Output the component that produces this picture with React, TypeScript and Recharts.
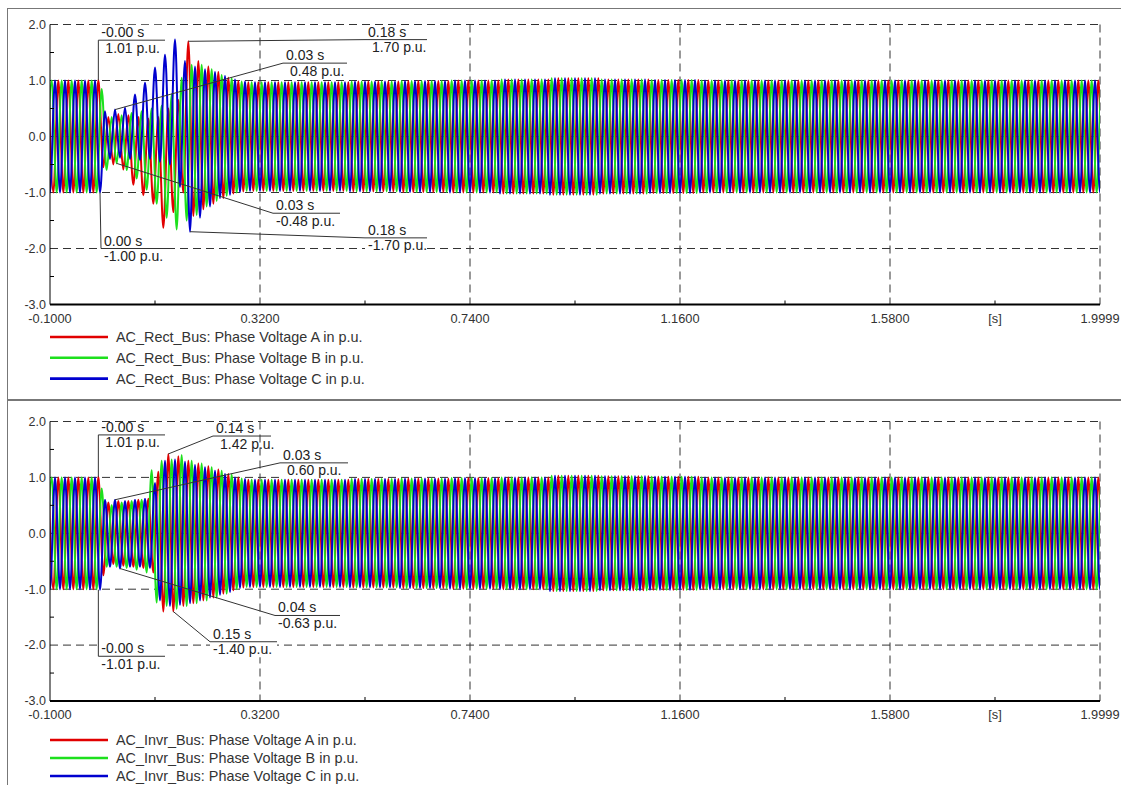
import React from "react";
import {
  LineChart,
  Line,
  XAxis,
  YAxis,
  CartesianGrid,
  ReferenceLine,
  ReferenceArea,
  ReferenceDot,
} from "recharts";

// 50 Hz -> one extremum every half cycle
const HALF_CYCLE = 0.01;

// x axis ticks (major labelled, minor only a tick mark, "[s]" at 1.79)
const TIME_TICKS = [-0.1, 0.11, 0.32, 0.53, 0.74, 0.95, 1.16, 1.37, 1.58, 1.79, 1.9999];
const TIME_LABELS = ["-0.1000", "", "0.3200", "", "0.7400", "", "1.1600", "", "1.5800", "[s]", "1.9999"];
const TIME_GRID = [0.32, 0.74, 1.16, 1.58, 2.0];
const VOLT_TICKS = [-3, -2.5, -2, -1.5, -1, -0.5, 0, 0.5, 1, 1.5, 2];
const VOLT_GRID = [-2, -1, 0, 1, 2];

const PHASE_NAMES = ["A", "B", "C"];
const PHASE_COLORS = ["#e10000", "#1de01d", "#0000cf"];
// first extremum of each phase before the left edge, its sign, and where the fault data starts
const PHASE_FIRST_PEAK = [-0.10333, -0.10667, -0.11];
const PHASE_FIRST_SIGN = [1, -1, 1];
const FAULT_START = [-0.00333, 0.00333, 0.0];

// peak values (p.u.) each half cycle from the fault on, AC_Rect_Bus
const RECT_A_FAULT = [1.01, -0.55, 0.35, -0.5, 0.4, -0.59, 0.38, -0.86, 0.35, -1.05, 0.32, -1.2, 0.35, -1.63, 0.5, -1.35, 0.65, -1.0, 1.7, -1.42, 1.35, -1.3, 1.25, -1.2, 1.15, -1.1, 1.05, -1.02, 0.99, -0.98, 0.97];
const RECT_B_FAULT = [0.85, -0.6, 0.35, -0.48, 0.38, -0.6, 0.42, -0.75, 0.45, -0.95, 0.5, -1.2, 0.55, -1.45, 0.75, -1.66, 1.05, -1.5, 1.28, -1.4, 1.28, -1.25, 1.2, -1.15, 1.1, -1.06, 1.04, -1.0, 0.98, -0.97, 0.97];
const RECT_C_FAULT = [-1.0, 0.45, -0.4, 0.48, -0.38, 0.52, -0.4, 0.75, -0.42, 0.96, -0.4, 1.23, -0.45, 1.46, -0.5, 1.73, -0.9, 1.35, -1.7, 1.25, -1.45, 1.2, -1.25, 1.15, -1.1, 1.08, -1.04, 1.02, -0.99, 0.98, -0.97];

// AC_Invr_Bus
const INVR_A_FAULT = [1.01, -0.75, 0.55, -0.55, 0.58, -0.58, 0.58, -0.6, 0.6, -0.62, 0.62, -0.7, 1.1, -1.4, 1.42, -1.4, 1.38, -1.3, 1.3, -1.25, 1.25, -1.2, 1.2, -1.15, 1.14, -1.08, 1.06, -1.02, 1.0, -0.97, 0.96];
const INVR_B_FAULT = [0.8, -0.6, 0.5, -0.6, 0.55, -0.62, 0.58, -0.65, 0.6, -0.7, 1.13, -1.24, 1.3, -1.3, 1.32, -1.35, 1.4, -1.3, 1.3, -1.25, 1.25, -1.2, 1.18, -1.15, 1.12, -1.08, 1.05, -1.0, 0.98, -0.96, 0.96];
const INVR_C_FAULT = [-1.01, 0.6, -0.6, 0.6, -0.63, 0.58, -0.6, 0.6, -0.6, 0.62, -0.62, 0.9, -1.2, 1.3, -1.3, 1.32, -1.28, 1.28, -1.25, 1.22, -1.2, 1.18, -1.15, 1.12, -1.1, 1.06, -1.05, 1.0, -0.98, 0.97, -0.96];

// steady amplitude for each 0.1 s window starting at -0.1 s
const RECT_ENVELOPE = [1.0, 1.0, 1.0, 1.0, 0.97, 0.97, 0.98, 0.99, 1.0, 1.02, 1.04, 1.02, 1.01, 1.0, 1.0, 1.0, 1.0, 1.0, 1.0, 1.0, 1.0, 1.0];
const INVR_ENVELOPE = [1.0, 1.0, 1.0, 1.0, 0.96, 0.96, 0.97, 0.98, 0.99, 1.0, 1.03, 1.02, 1.01, 1.0, 1.0, 1.0, 1.0, 1.0, 1.0, 1.0, 1.0, 1.0];

interface Marker {
  t: number; v: number; // marked point
  at: number; av: number; // left end of the label line
  end: number;
  time: string; value: string;
}

const RECT_MARKERS: Marker[] = [
  { t: -0.0033, v: 1.01, at: -0.0033, av: 1.72, end: 0.13, time: "-0.00 s", value: "1.01 p.u." },
  { t: 0.1767, v: 1.7, at: 0.53, av: 1.73, end: 0.654, time: "0.18 s", value: "1.70 p.u." },
  { t: 0.03, v: 0.48, at: 0.366, av: 1.31, end: 0.494, time: "0.03 s", value: "0.48 p.u." },
  { t: 0.0333, v: -0.48, at: 0.346, av: -1.37, end: 0.48, time: "0.03 s", value: "-0.48 p.u." },
  { t: 0.18, v: -1.7, at: 0.53, av: -1.81, end: 0.654, time: "0.18 s", value: "-1.70 p.u." },
  { t: 0.0, v: -1.0, at: 0.002, av: -2.0, end: 0.14, time: "0.00 s", value: "-1.00 p.u." },
];

const INVR_MARKERS: Marker[] = [
  { t: -0.0033, v: 1.01, at: -0.0033, av: 1.76, end: 0.13, time: "-0.00 s", value: "1.01 p.u." },
  { t: 0.1367, v: 1.42, at: 0.226, av: 1.74, end: 0.342, time: "0.14 s", value: "1.42 p.u." },
  { t: 0.03, v: 0.6, at: 0.36, av: 1.26, end: 0.496, time: "0.03 s", value: "0.60 p.u." },
  { t: 0.04, v: -0.63, at: 0.35, av: -1.47, end: 0.48, time: "0.04 s", value: "-0.63 p.u." },
  { t: 0.1467, v: -1.4, at: 0.22, av: -1.94, end: 0.354, time: "0.15 s", value: "-1.40 p.u." },
  { t: -0.0033, v: -1.01, at: -0.0033, av: -2.2, end: 0.13, time: "-0.00 s", value: "-1.01 p.u." },
];

const FONT = "'Liberation Sans', Arial, sans-serif";

// one point per peak / trough of a phase
const buildPhase = (phase: number, fault: number[], envelope: number[]) => {
  const pts: { t: number; v: number }[] = [];
  for (let k = 0; ; k++) {
    const t = PHASE_FIRST_PEAK[phase] + k * HALF_CYCLE;
    if (t > 2.02) break;
    const sign = k % 2 === 0 ? PHASE_FIRST_SIGN[phase] : -PHASE_FIRST_SIGN[phase];
    const j = Math.round((t - FAULT_START[phase]) / HALF_CYCLE);
    let v: number;
    if (j >= 0 && j < fault.length) v = fault[j];
    else {
      const b = Math.min(envelope.length - 1, Math.max(0, Math.floor((t + 0.1) / 0.1 + 1e-9)));
      v = sign * envelope[b];
    }
    pts.push({ t: Number(t.toFixed(5)), v });
  }
  return pts;
};

const XTick = (props: any) => {
  const { x, y, index } = props;
  const label = TIME_LABELS[index];
  return (
    <g>
      {index % 2 === 1 && <line x1={x} x2={x} y1={y - 4} y2={y} stroke="#000" />}
      {label && (
        <text x={x} y={y + 14} dy="0.35em" textAnchor="middle" fontSize={12.8} fill="#333" fontFamily={FONT}>
          {label}
        </text>
      )}
    </g>
  );
};

const YTick = (props: any) => {
  const { x, y, payload } = props;
  const v = payload.value as number;
  if (!Number.isInteger(v)) return <line x1={x} x2={x + 4} y1={y} y2={y} stroke="#000" />;
  return (
    <text x={x - 4} y={y} dy="0.35em" textAnchor="end" fontSize={12.5} fill="#333" fontFamily={FONT}>
      {v.toFixed(1)}
    </text>
  );
};

const markerText = (m: Marker) => (props: any) => {
  const { cx, cy } = props;
  return (
    <g fontFamily={FONT} fontSize={14} fill="#222">
      <text x={cx + 3} y={cy - 3}>{m.time}</text>
      <text x={cx + (m.value.startsWith("-") ? 3 : 7)} y={cy + 12.5}>{m.value}</text>
    </g>
  );
};

interface PanelProps {
  top: number;
  height: number;
  plotTop: number;
  plotBottom: number;
  bus: string;
  faults: number[][];
  envelope: number[];
  markers: Marker[];
  legendTop: number;
  legendGap: number;
}

const Panel: React.FC<PanelProps> = ({ top, height, plotTop, plotBottom, bus, faults, envelope, markers, legendTop, legendGap }) => {
  const series = faults.map((f, i) => buildPhase(i, f, envelope));
  const boxH = 15.5 / 56;
  return (
    <div style={{ position: "absolute", left: 0, top, width: 1121, height }}>
      <LineChart
        width={1121}
        height={height}
        margin={{ top: plotTop, right: 21, left: 0, bottom: height - plotBottom - 30 }}
      >
        <CartesianGrid
          stroke="#333"
          strokeDasharray="8 5"
          horizontalValues={VOLT_GRID}
          verticalValues={TIME_GRID}
        />
        <XAxis
          dataKey="t"
          type="number"
          domain={[-0.1, 2.0]}
          allowDataOverflow
          ticks={TIME_TICKS}
          interval={0}
          height={30}
          tickSize={0}
          tickMargin={0}
          tick={<XTick />}
          axisLine={{ stroke: "#000", strokeWidth: 2 }}
        />
        <YAxis
          type="number"
          domain={[-3, 2]}
          allowDataOverflow
          ticks={VOLT_TICKS}
          interval={0}
          width={50}
          tickSize={0}
          tickMargin={0}
          tick={<YTick />}
          axisLine={{ stroke: "#000" }}
        />
        {series.map((d, i) => (
          <Line
            key={PHASE_NAMES[i]}
            data={d}
            dataKey="v"
            type="monotone"
            stroke={PHASE_COLORS[i]}
            strokeWidth={2}
            dot={false}
            activeDot={false}
            isAnimationActive={false}
          />
        ))}
        {markers.map((m, i) => (
          <ReferenceArea
            key={`box-${i}`}
            x1={m.at}
            x2={m.end}
            y1={m.av - boxH}
            y2={m.av + boxH}
            fill="#fff"
            fillOpacity={1}
            stroke="none"
          />
        ))}
        {markers.map((m, i) => (
          <ReferenceLine
            key={`conn-${i}`}
            segment={[{ x: m.t, y: m.v }, { x: m.at, y: m.av }]}
            stroke="#333"
          />
        ))}
        {markers.map((m, i) => (
          <ReferenceLine
            key={`sep-${i}`}
            segment={[{ x: m.at, y: m.av }, { x: m.end, y: m.av }]}
            stroke="#333"
          />
        ))}
        {markers.map((m, i) => (
          <ReferenceDot key={`txt-${i}`} x={m.at} y={m.av} r={0} shape={markerText(m)} />
        ))}
      </LineChart>
      <svg
        width={420}
        height={70}
        style={{ position: "absolute", left: 0, top: legendTop - top - 10 }}
      >
        {PHASE_NAMES.map((p, i) => (
          <g key={p}>
            <line x1={50} x2={108} y1={10 + i * legendGap} y2={10 + i * legendGap} stroke={PHASE_COLORS[i]} strokeWidth={2.6} />
            <text x={116} y={10 + i * legendGap} dy="0.35em" fontSize={14.4} fill="#333" fontFamily={FONT}>
              {`${bus}: Phase Voltage ${p} in p.u.`}
            </text>
          </g>
        ))}
      </svg>
    </div>
  );
};

export default function App() {
  return (
    <div style={{ position: "fixed", left: 0, top: 0, width: 1121, height: 785, background: "#fff", overflow: "hidden" }}>
      <div style={{ position: "absolute", left: 7, top: 8, width: 1130, height: 390, borderLeft: "1.5px solid #777", borderTop: "1.5px solid #777", borderBottom: "1.5px solid #777" }} />
      <div style={{ position: "absolute", left: 7, top: 400, width: 1130, height: 400, borderLeft: "1.5px solid #777", borderTop: "1.5px solid #777" }} />
      <Panel
        top={0}
        height={398}
        plotTop={24.5}
        plotBottom={304.5}
        bus="AC_Rect_Bus"
        faults={[RECT_A_FAULT, RECT_B_FAULT, RECT_C_FAULT]}
        envelope={RECT_ENVELOPE}
        markers={RECT_MARKERS}
        legendTop={336.7}
        legendGap={20.8}
      />
      <Panel
        top={397}
        height={388}
        plotTop={24.5}
        plotBottom={304}
        bus="AC_Invr_Bus"
        faults={[INVR_A_FAULT, INVR_B_FAULT, INVR_C_FAULT]}
        envelope={INVR_ENVELOPE}
        markers={INVR_MARKERS}
        legendTop={740}
        legendGap={18}
      />
    </div>
  );
}
